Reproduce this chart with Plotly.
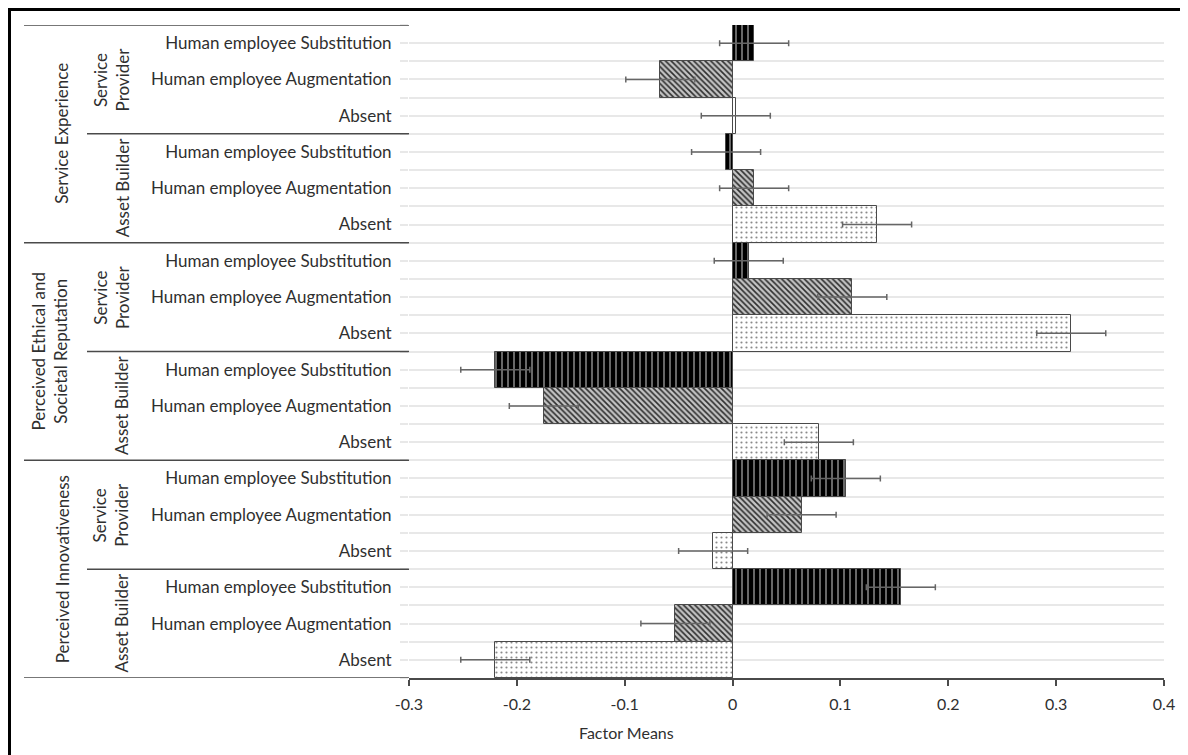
import plotly.graph_objects as go

# ---------------- data ----------------
factors = ["Service Experience", "Perceived Ethical and<br>Societal Reputation", "Perceived Innovativeness"]
roles = ["Service<br>Provider", "Asset Builder"]
conditions = ["Human employee Substitution", "Human employee Augmentation", "Absent"]

# factor means, order: (factor, role) groups top to bottom
subst_means = [0.020, -0.006, 0.015, -0.220, 0.105, 0.156]
augm_means = [-0.067, 0.020, 0.111, -0.175, 0.064, -0.053]
absent_means = [0.003, 0.134, 0.314, 0.080, -0.018, -0.220]

subst_err = [0.032, 0.032, 0.032, 0.032, 0.032, 0.032]
augm_err = [0.032, 0.032, 0.032, 0.032, 0.032, 0.032]
absent_err = [0.032, 0.032, 0.032, 0.032, 0.032, 0.032]

x_ticks = [-0.3, -0.2, -0.1, 0, 0.1, 0.2, 0.3, 0.4]
x_ticktext = ["-0.3", "-0.2", "-0.1", "0", "0.1", "0.2", "0.3", "0.4"]
x_title = "Factor Means"

# ---------------- geometry (screen px; page body has an 8px margin) ----------------
OX, OY = 8, 8
W, H = 1188 - OX, 755 - OY
SL, SR, ST, SB = 409, 1164, 25, 678  # plot area in screen px
PL, PR, PT, PB = SL - OX, SR - OX, ST - OY, SB - OY
pw, ph = PR - PL, PB - PT

def px_x(p):  # screen px -> paper x
    return (p - OX - PL) / pw

def px_y(p):  # screen px -> paper y
    return (PB - (p - OY)) / ph

n_groups = len(factors) * len(roles)
n_cond = len(conditions)
n_rows = n_groups * n_cond

styles = [
    dict(shape="|", bg="#000000", fg="#e8e8e8", size=6, solidity=0.15),
    dict(shape="\\", bg="#c4c4c4", fg="#2e2e2e", size=4, solidity=0.4),
    dict(shape=".", bg="#ffffff", fg="#8a8a8a", size=5, solidity=0.15),
]
series = [(subst_means, subst_err), (augm_means, augm_err), (absent_means, absent_err)]

fig = go.Figure()
for c, (vals, errs) in enumerate(series):
    st = styles[c]
    ys = [g * n_cond + c for g in range(n_groups)]
    fig.add_trace(go.Bar(
        orientation="h", x=vals, y=ys, width=1, name=conditions[c],
        marker=dict(color=st["bg"], line=dict(color="#4a4a4a", width=1),
                    pattern=dict(shape=st["shape"], fgcolor=st["fg"], bgcolor=st["bg"],
                                 size=st["size"], solidity=st["solidity"], fillmode="replace")),
        error_x=dict(type="data", array=errs, color="#666666", thickness=1.5, width=3),
        showlegend=False,
    ))

row_labels = [conditions[i % n_cond] for i in range(n_rows)]
FONT = "Lato"
FS = 17
TXT = "#2f2f2f"
GRID = "#e8e8e8"

fig.update_layout(
    width=W, height=H,
    margin=dict(l=PL, r=W - PR, t=PT, b=H - PB),
    paper_bgcolor="white", plot_bgcolor="white",
    bargap=0,
    font=dict(family=FONT, size=FS, color=TXT),
    xaxis=dict(range=[x_ticks[0], x_ticks[-1]], tickvals=x_ticks, ticktext=x_ticktext,
               showgrid=False, zeroline=True, zerolinecolor="#4a4a4a", zerolinewidth=1,
               showline=True, linecolor="#4a4a4a", linewidth=1.5,
               ticks="outside", ticklen=6, tickcolor="#4a4a4a", tickwidth=1.5,
               tickfont=dict(size=FS - 1, color=TXT), ticklabelstandoff=5),
    yaxis=dict(range=[n_rows - 0.5, -0.5], tickvals=list(range(n_rows)), ticktext=row_labels,
               showgrid=True, gridcolor=GRID, gridwidth=1.5, zeroline=False,
               ticks="outside", ticklen=8, tickcolor=GRID, tickwidth=1.5,
               tickfont=dict(size=FS, color=TXT), ticklabelstandoff=5,
               minor=dict(tickvals=[i + 0.5 for i in range(-1, n_rows)], showgrid=True,
                          gridcolor=GRID, gridwidth=1.5, ticks="outside", ticklen=8,
                          tickcolor=GRID, tickwidth=1.5)),
)

shapes = []
LINE = dict(color="#4a4a4a", width=1.5)
# top line of the table
shapes.append(dict(type="line", xref="paper", yref="y", x0=px_x(24), x1=0, y0=-0.5, y1=-0.5, line=LINE))
# group separators
for g in range(1, n_groups + 1):
    yb = g * n_cond - 0.5
    x_start = 24 if g % len(roles) == 0 else 87
    shapes.append(dict(type="line", xref="paper", yref="y", x0=px_x(x_start), x1=0, y0=yb, y1=yb, line=LINE))
# outer frame (top and left edges)
FRAME = dict(color="#000000", width=3)
shapes.append(dict(type="line", xref="paper", yref="paper", x0=px_x(8), x1=px_x(1200), y0=px_y(9.5), y1=px_y(9.5), line=FRAME))
shapes.append(dict(type="line", xref="paper", yref="paper", x0=px_x(9.5), x1=px_x(9.5), y0=px_y(8), y1=px_y(770), line=FRAME))
fig.update_layout(shapes=shapes)

annotations = []
# role labels
role_x = {1: 122, 2: 111}
for g in range(n_groups):
    r = g % len(roles)
    lbl = roles[r]
    nlines = lbl.count("<br>") + 1
    yc = g * n_cond + (n_cond - 1) / 2
    annotations.append(dict(text=lbl, xref="paper", yref="y", x=px_x(role_x[nlines]), y=yc,
                            textangle=-90, showarrow=False, xanchor="center", yanchor="middle",
                            font=dict(family=FONT, size=FS, color=TXT)))
# factor labels
fac_x = {1: 62, 2: 49}
for f, lbl in enumerate(factors):
    nlines = lbl.count("<br>") + 1
    span = len(roles) * n_cond
    yc = f * span + (span - 1) / 2
    annotations.append(dict(text=lbl, xref="paper", yref="y", x=px_x(fac_x[nlines]), y=yc,
                            textangle=-90, showarrow=False, xanchor="center", yanchor="middle",
                            font=dict(family=FONT, size=FS, color=TXT)))
# axis title
annotations.append(dict(text=x_title, xref="paper", yref="paper", x=px_x(626), y=px_y(732),
                        showarrow=False, xanchor="center", yanchor="middle",
                        font=dict(family=FONT, size=FS - 1, color=TXT)))
fig.update_layout(annotations=annotations)

fig.write_html("out.html")
